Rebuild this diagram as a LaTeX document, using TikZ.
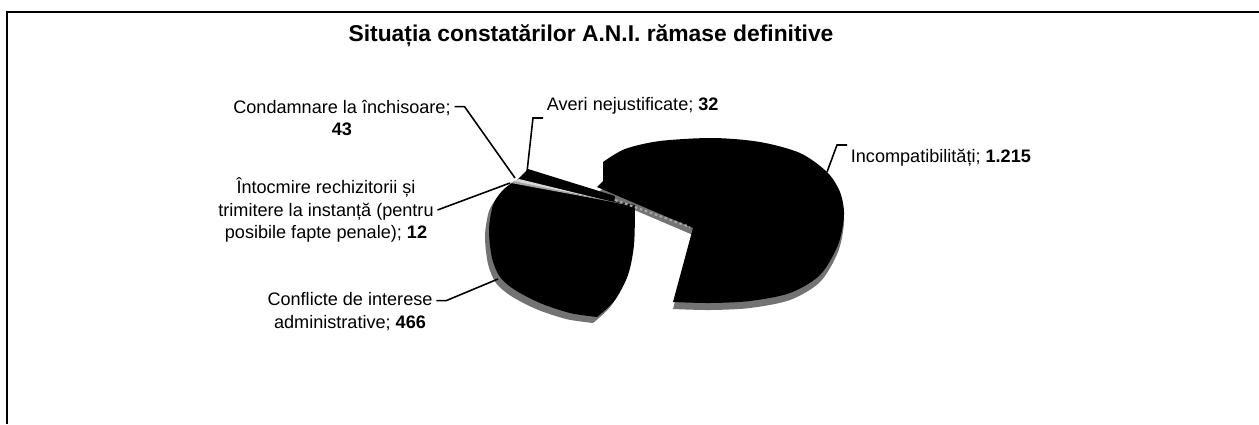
\documentclass[tikz,border=0pt]{standalone}
\usepackage{fontspec}
\setmainfont{Liberation Sans}
\usepackage{tikz}
\tikzstyle{leader} = [line width=0.9pt]
\tikzstyle{piece} = [fill=black]
\tikzstyle{sideface} = [fill=black!55]
\tikzstyle{lbl} = [align=center, inner sep=2pt, font=\fontsize{10.3}{13}\selectfont]
\tikzstyle{incompatpath} = [insert path={(693,228) -- (597,187) -- (603,181) -- (603,162) -- plot[smooth] coordinates {(603,162) (625,149) (660,141) (713,138) (760,142) (800,153) (827,172) (840,192) (844,215) (838,245) (820,275) (790,293) (750,301) (710,303) (673,302)} -- cycle}]
\tikzstyle{conflictepath} = [insert path={(635,205) -- (513,182) -- plot[smooth] coordinates {(513,182) (502,191) (493,205) (489,230) (492,258) (500,277) (515,290) (540,303) (570,313) (597,317)} -- plot[smooth] coordinates {(597,317) (615,300) (628,275) (634,245) (635,205)} -- cycle}]

\begin{document}
\begin{tikzpicture}[x=0.02cm, y=-0.02cm]
	\useasboundingbox (0,0) rectangle (1259,424);
	\draw [line width=1pt] (7,424) -- (7,12) -- (1259,12);
	\node (title) at (591,36) {\fontsize{13}{15}\selectfont\bfseries Situația constatărilor A.N.I. rămase definitive};

	% pie: sides first, then top faces
	\fill [sideface, shift={(0,7)}, incompatpath];
	\fill [sideface, shift={(-4,6)}, conflictepath];
	\fill [piece, incompatpath];
	\fill [piece, conflictepath];
	\fill [piece] (517,180) -- (528,169) -- (615,196) -- (614,203) -- cycle;
	\fill [black!15] (514,181) -- (519,179) -- (613,202) -- (623,204) -- cycle;
	\fill [black!35] (511,183) -- (514,181) -- (623,204) -- (635,206) -- cycle;
	\draw [black!35, line width=1.2pt, dash pattern=on 1.5pt off 1.5pt] (615,200) -- (690,227);

	\coordinate (pIncompat) at (827,172);
	\coordinate (pAveri) at (527,172);
	\coordinate (pCondamnare) at (515,178);
	\coordinate (pIntocmire) at (510,183);
	\coordinate (pConflicte) at (498,279);

	\node [lbl, anchor=north west] (incompat) at (847,145) {Incompatibilități; \textbf{1.215}};
	\node [lbl, anchor=south west] (averi) at (543,118) {Averi nejustificate; \textbf{32}};
	\node [lbl] (condamnare) at (342,118) {Condamnare la închisoare;\\\textbf{43}};
	\node [lbl] (intocmire) at (326,210) {Întocmire rechizitorii și\\trimitere la instanță (pentru\\posibile fapte penale); \textbf{12}};
	\node [lbl] (conflicte) at (350,312) {Conflicte de interese\\administrative; \textbf{466}};

	\draw [leader] (incompat.north west) -- ++(-10,0) -- (pIncompat);
	\draw [leader] (averi.south west) -- ++(-10,0) -- (pAveri);
	\draw [leader] ([yshift=6.5pt]condamnare.east) -- ++(10,0) -- (pCondamnare);
	\draw [leader] (intocmire.east) -- (pIntocmire);
	\draw [leader] ([yshift=6.5pt]conflicte.east) -- ++(10,0) -- (pConflicte);
\end{tikzpicture}
\end{document}
